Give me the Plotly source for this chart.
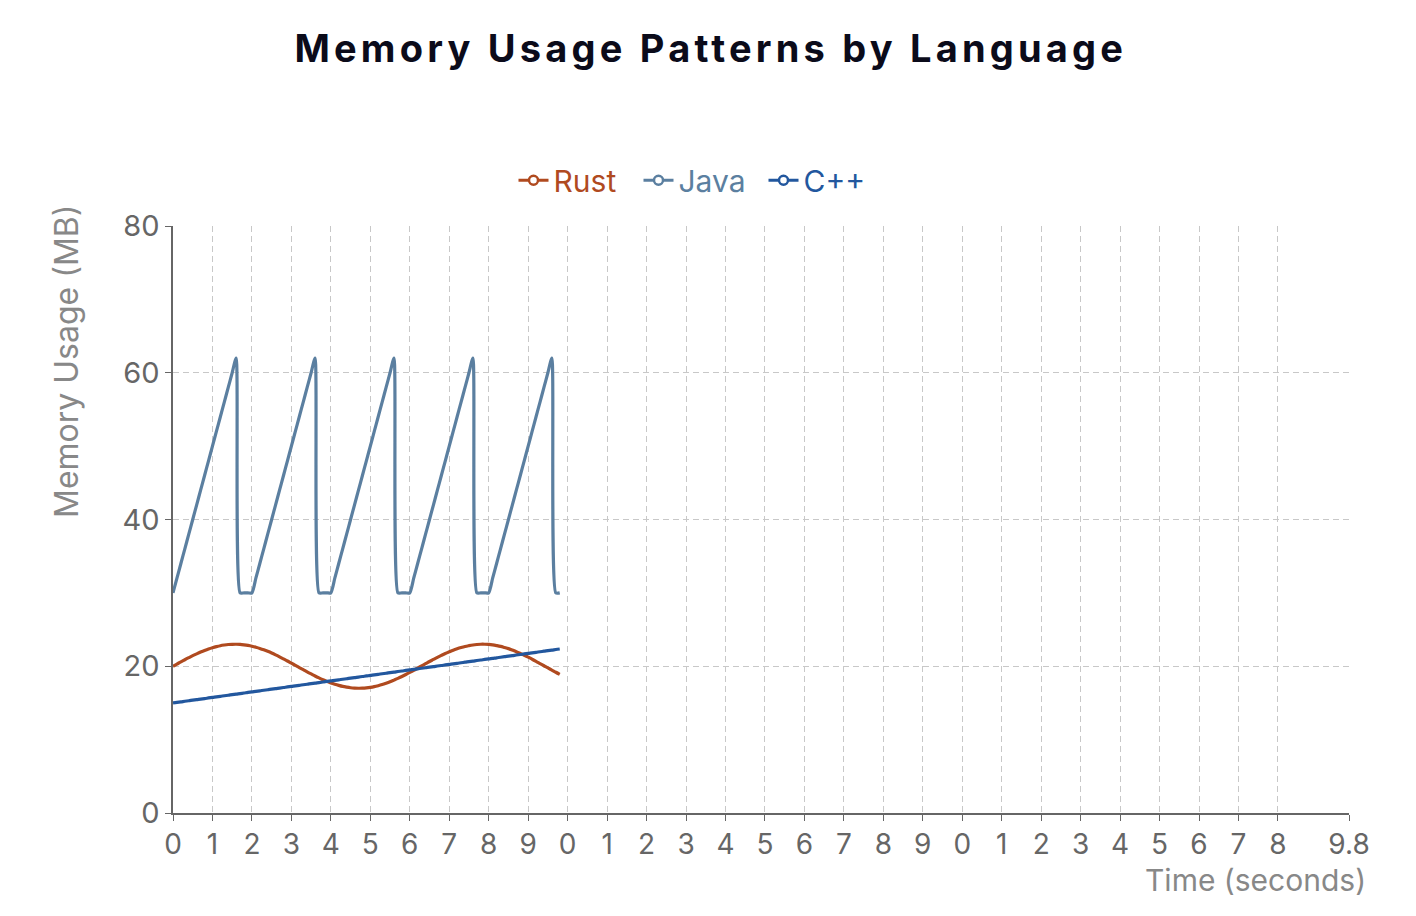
import plotly.graph_objects as go

time_s = [0.0, 0.1, 0.2, 0.3, 0.4, 0.5, 0.6, 0.7, 0.8, 0.9,
          1.0, 1.1, 1.2, 1.3, 1.4, 1.5, 1.6, 1.7, 1.8, 1.9,
          2.0, 2.1, 2.2, 2.3, 2.4, 2.5, 2.6, 2.7, 2.8, 2.9,
          3.0, 3.1, 3.2, 3.3, 3.4, 3.5, 3.6, 3.7, 3.8, 3.9,
          4.0, 4.1, 4.2, 4.3, 4.4, 4.5, 4.6, 4.7, 4.8, 4.9,
          5.0, 5.1, 5.2, 5.3, 5.4, 5.5, 5.6, 5.7, 5.8, 5.9,
          6.0, 6.1, 6.2, 6.3, 6.4, 6.5, 6.6, 6.7, 6.8, 6.9,
          7.0, 7.1, 7.2, 7.3, 7.4, 7.5, 7.6, 7.7, 7.8, 7.9,
          8.0, 8.1, 8.2, 8.3, 8.4, 8.5, 8.6, 8.7, 8.8, 8.9,
          9.0, 9.1, 9.2, 9.3, 9.4, 9.5, 9.6, 9.7, 9.8]

rust_mb = [20.00, 20.30, 20.60, 20.89, 21.17, 21.44, 21.69, 21.93, 22.15, 22.35,
           22.52, 22.67, 22.80, 22.89, 22.96, 22.99, 23.00, 22.98, 22.92, 22.84,
           22.73, 22.59, 22.43, 22.24, 22.03, 21.80, 21.55, 21.28, 21.00, 20.72,
           20.42, 20.12, 19.82, 19.53, 19.23, 18.95, 18.67, 18.41, 18.16, 17.94,
           17.73, 17.55, 17.39, 17.25, 17.15, 17.07, 17.02, 17.00, 17.01, 17.05,
           17.12, 17.22, 17.35, 17.50, 17.68, 17.88, 18.11, 18.35, 18.61, 18.88,
           19.16, 19.45, 19.75, 20.05, 20.35, 20.65, 20.93, 21.21, 21.48, 21.74,
           21.97, 22.19, 22.38, 22.55, 22.70, 22.81, 22.90, 22.96, 23.00, 23.00,
           22.97, 22.91, 22.82, 22.71, 22.56, 22.40, 22.20, 21.99, 21.75, 21.50,
           21.24, 20.96, 20.67, 20.37, 20.07, 19.77, 19.48, 19.18, 18.90]

java_mb = [30, 32, 34, 36, 38, 40, 42, 44, 46, 48, 50, 52, 54, 56, 58, 60, 62, 30, 30, 30,
           30, 32, 34, 36, 38, 40, 42, 44, 46, 48, 50, 52, 54, 56, 58, 60, 62, 30, 30, 30,
           30, 32, 34, 36, 38, 40, 42, 44, 46, 48, 50, 52, 54, 56, 58, 60, 62, 30, 30, 30,
           30, 32, 34, 36, 38, 40, 42, 44, 46, 48, 50, 52, 54, 56, 58, 60, 62, 30, 30, 30,
           30, 32, 34, 36, 38, 40, 42, 44, 46, 48, 50, 52, 54, 56, 58, 60, 62, 30, 30]

cpp_mb = [15.00, 15.08, 15.15, 15.23, 15.30, 15.38, 15.45, 15.53, 15.60, 15.68,
          15.75, 15.83, 15.90, 15.98, 16.05, 16.13, 16.20, 16.28, 16.35, 16.43,
          16.50, 16.58, 16.65, 16.73, 16.80, 16.88, 16.95, 17.03, 17.10, 17.18,
          17.25, 17.33, 17.40, 17.48, 17.55, 17.63, 17.70, 17.78, 17.85, 17.93,
          18.00, 18.08, 18.15, 18.23, 18.30, 18.38, 18.45, 18.53, 18.60, 18.68,
          18.75, 18.83, 18.90, 18.98, 19.05, 19.13, 19.20, 19.28, 19.35, 19.43,
          19.50, 19.58, 19.65, 19.73, 19.80, 19.88, 19.95, 20.03, 20.10, 20.18,
          20.25, 20.33, 20.40, 20.48, 20.55, 20.63, 20.70, 20.78, 20.85, 20.93,
          21.00, 21.08, 21.15, 21.23, 21.30, 21.38, 21.45, 21.53, 21.60, 21.68,
          21.75, 21.83, 21.90, 21.98, 22.05, 22.13, 22.20, 22.28, 22.35]

series_names = ["Rust", "Java", "C++"]
series_colors = ["#b04a1f", "#5b7fa0", "#22579e"]
series_values = [rust_mb, java_mb, cpp_mb]
series_smoothing = [1.0, 0.6, 1.0]

x_tick_vals = [0, 1, 2, 3, 4, 5, 6, 7, 8, 9, 10, 11, 12, 13, 14, 15, 16, 17, 18, 19,
               20, 21, 22, 23, 24, 25, 26, 27, 28, 29.8]
x_tick_text = ["0", "1", "2", "3", "4", "5", "6", "7", "8", "9",
               "0", "1", "2", "3", "4", "5", "6", "7", "8", "9",
               "0", "1", "2", "3", "4", "5", "6", "7", "8", "9.8"]
y_tick_vals = [0, 20, 40, 60, 80]

FONT = "Inter, Roboto, 'Noto Sans', sans-serif"

fig = go.Figure()
for name, color, vals, sm in zip(series_names, series_colors, series_values, series_smoothing):
    fig.add_trace(go.Scatter(
        x=time_s, y=vals, mode="lines", showlegend=False,
        line=dict(color=color, width=3.2, shape="spline", smoothing=sm),
        name=name))
for name, color in zip(series_names, series_colors):
    fig.add_trace(go.Scatter(
        x=[None], y=[None], mode="lines+markers",
        name=f"<span style='color:{color}'>{name}</span>",
        line=dict(color=color, width=3),
        marker=dict(symbol="circle", size=9, color="white", line=dict(color=color, width=2.5))))

# page has an 8px body margin, so figure coords = page coords - 8
fig.update_layout(
    width=1400, height=900,
    paper_bgcolor="white", plot_bgcolor="white",
    margin=dict(l=165, r=59, t=218, b=95),
    font=dict(family=FONT, color="#666666", size=30),
    title=dict(text="<b><span style='letter-spacing:4.2px'>Memory Usage Patterns by Language</span></b>",
               x=0.502, xanchor="center",
               y=1 - 41 / 900, yanchor="middle",
               font=dict(size=38, color="#0b0b1a", family=FONT, weight=800)),
    legend=dict(orientation="h", x=(701 - 173) / 1176, xanchor="center", y=1.078, yanchor="middle",
                font=dict(size=30), itemwidth=30, tracegroupgap=0,
                entrywidth=80, entrywidthmode="pixels",
                bgcolor="rgba(0,0,0,0)"),
    xaxis=dict(range=[0, 29.8], tickmode="array", tickvals=x_tick_vals, ticktext=x_tick_text,
               showgrid=True, gridcolor="#c8c8c8", griddash="6px,4px", gridwidth=1.2,
               showline=True, linecolor="#666666", linewidth=1.5,
               ticks="outside", ticklen=6, tickcolor="#666666",
               tickfont=dict(size=28, color="#666666"), zeroline=False),
    yaxis=dict(range=[0, 80], tickmode="array", tickvals=y_tick_vals,
               showgrid=True, gridcolor="#c8c8c8", griddash="6px,4px", gridwidth=1.2,
               showline=True, linecolor="#666666", linewidth=1.5,
               ticks="outside", ticklen=6, tickcolor="#666666",
               tickfont=dict(size=29, color="#666666"), zeroline=False),
    annotations=[
        dict(text="Time (seconds)", xref="paper", yref="paper",
             x=(1368 - 173) / 1176, y=(813 - 880) / 587,
             xanchor="right", yanchor="middle", showarrow=False,
             font=dict(size=30, color="#888888")),
        dict(text="Memory Usage (MB)", xref="paper", yref="paper",
             x=(66 - 173) / 1176, y=(813 - 362) / 587,
             xanchor="center", yanchor="middle", textangle=-90, showarrow=False,
             font=dict(size=32, color="#888888")),
    ],
)

fig.write_html("out.html")
